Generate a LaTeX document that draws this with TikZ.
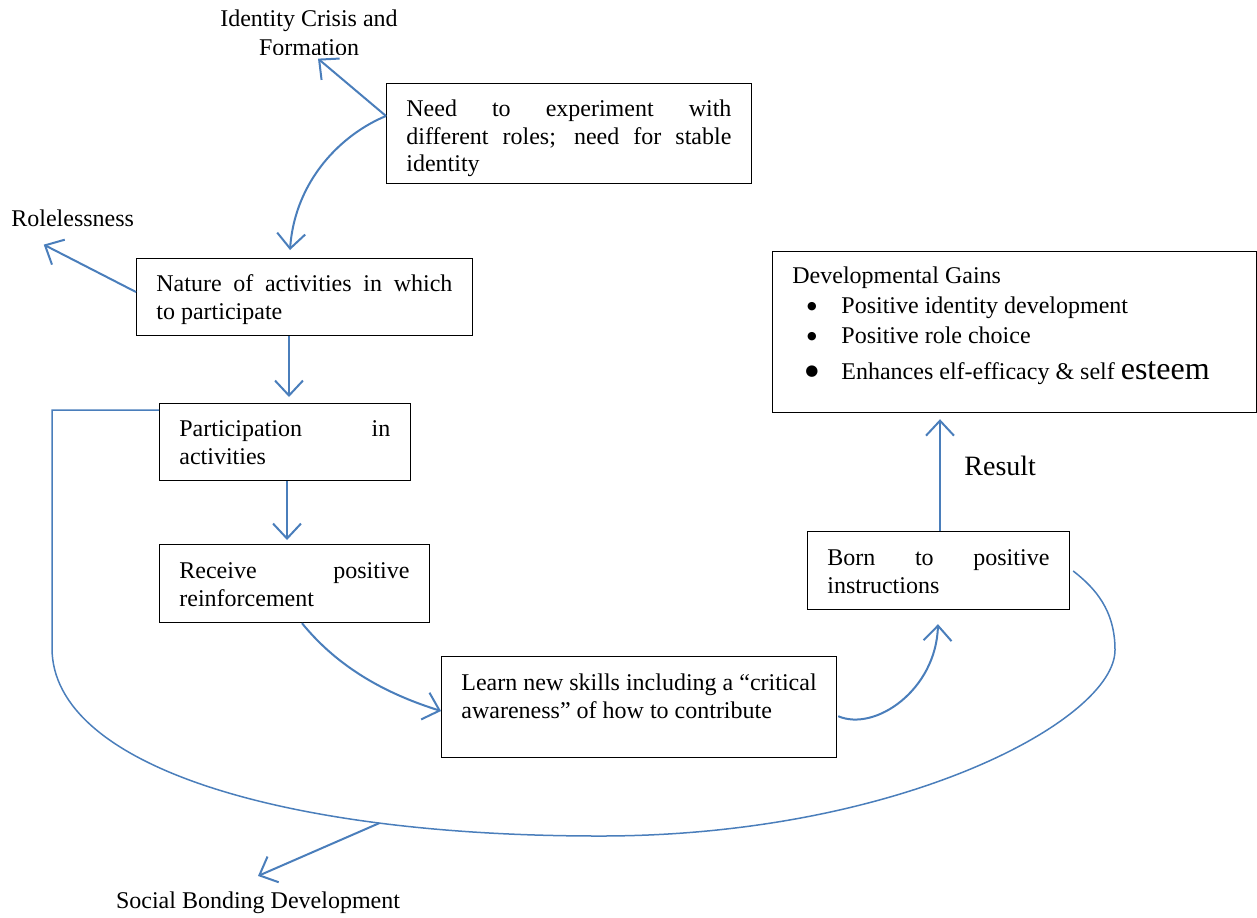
\documentclass[tikz,border=0pt]{standalone}
\usepackage{fontspec}
\setmainfont{Liberation Serif}
\newfontfamily\dejavu{DejaVu Sans}
\usetikzlibrary{arrows.meta,calc}
\definecolor{wblue}{RGB}{74,126,187}
\begin{document}
\begin{tikzpicture}[x=0.5pt,y=-0.5pt,
  box/.style={draw=black,line width=0.6pt,rectangle,inner sep=0pt,anchor=north west},
  txt/.style={anchor=north west,inner sep=0pt,font=\fontsize{12}{13.8}\selectfont,align=justify},
  ltxt/.style={anchor=north west,inner sep=0pt,font=\fontsize{12}{13.8}\selectfont,align=left},
  lbl/.style={inner sep=0pt,font=\fontsize{12}{13.8}\selectfont},
  bul/.style={inner sep=0pt,anchor=base,font=\dejavu\fontsize{5.5}{6}\selectfont},
  arr/.style={draw=wblue,line width=1pt,-{Straight Barb[length=7.5pt,width=14pt,line width=1pt]}},
  thinline/.style={draw=wblue,line width=0.75pt}]
\useasboundingbox (0,0) rectangle (1257,917);

% boxes
\node[box,minimum width=182.5pt,minimum height=50pt] (need) at (386,83) {};
\node[box,minimum width=168pt,minimum height=38.5pt] (nature) at (136,258) {};
\node[box,minimum width=125.5pt,minimum height=38.5pt] (part) at (159,403) {};
\node[box,minimum width=135pt,minimum height=39pt] (recv) at (159,544) {};
\node[box,minimum width=197.5pt,minimum height=50.5pt] (learn) at (441,656) {};
\node[box,minimum width=131pt,minimum height=39pt] (born) at (807,531) {};
\node[box,minimum width=242pt,minimum height=80.5pt] (gains) at (772,251) {};

% box texts
\node[txt,text width=162.5pt] (needT) at ($(need.north west)+(20,13.7)$)
  {\strut Need to experiment with\linebreak different roles; need for stable\linebreak identity};
\node[txt,text width=148pt] (natureT) at ($(nature.north west)+(20,13.7)$)
  {\strut Nature of activities in which\linebreak to participate};
\node[txt,text width=105.5pt] (partT) at ($(part.north west)+(20,13.7)$)
  {\strut Participation in\linebreak activities};
\node[txt,text width=115pt] (recvT) at ($(recv.north west)+(20,14.7)$)
  {\strut Receive positive\linebreak reinforcement};
\node[ltxt] (learnT) at ($(learn.north west)+(20,14.7)$)
  {\strut Learn new skills including a “critical\\awareness” of how to contribute};
\node[txt,text width=111pt] (bornT) at ($(born.north west)+(20,14.7)$)
  {\strut Born to positive\linebreak instructions};

% developmental gains
\node[lbl,anchor=base west] (gT) at (792,283) {Developmental Gains};
\node[bul] (b1) at (812,309) {●};
\node[lbl,anchor=base west] (g1) at (841,313) {Positive identity development};
\node[bul] (b2) at (812,339) {●};
\node[lbl,anchor=base west] (g2) at (841,343) {Positive role choice};
\node[bul,font=\dejavu\fontsize{7.5}{8}\selectfont] (b3) at (812,375) {●};
\node[lbl,anchor=base west] (g3) at (841,379) {Enhances elf-efficacy \& self {\fontsize{16}{19}\selectfont esteem}};

% outside labels
\node[lbl,anchor=base] (idl1) at (309,26) {Identity Crisis and};
\begin{scope}
  \clip (200,0) rectangle (420,54);
  \node[lbl,anchor=base] (idl2) at (309,55) {Formation};
\end{scope}
\node[lbl,anchor=base west] (rl) at (11,226) {Rolelessness};
\node[lbl,anchor=base] (sbl) at (258,908) {Social Bonding Development};
\node[lbl,anchor=base west,font=\fontsize{14}{16}\selectfont] (res) at (964,475) {Result};

% connectors
\coordinate (needL) at ($(need.north west)+(0,33)$);
\draw[arr] (needL) -- ($(idl2.south)+(9,3)$);
\draw[arr] (needL) .. controls (342,134) and (295,180) .. ($(nature.north west)+(154,-8)$);
\draw[arr] ($(nature.north west)+(0,34)$) -- ($(rl.south)+(-29,18)$);
\draw[arr] ($(nature.south west)+(153,0)$) -- ($(part.north west)+(130,-6)$);
\draw[arr] ($(part.south west)+(128,0)$) -- ($(recv.north west)+(128,-4)$);
\draw[arr] ($(recv.south west)+(143,0)$) .. controls (340,670) and (390,695) .. ($(learn.north west)+(0,55)$);
\draw[arr] ($(learn.south east)+(1,-42)$) .. controls (875,732) and (936,690) .. ($(born.south west)+(131,14)$);
\draw[arr] ($(born.north west)+(133,0)$) -- ($(gains.south west)+(168,6)$);

% big loop
\draw[thinline] ($(part.north west)+(0,7)$) -- (52,410) -- (52,648)
  .. controls (52,765) and (280,836) .. (600,836) coordinate[pos=0.75] (sb)
  .. controls (900,836) and (1115,720) .. (1115,650)
  .. controls (1115,610) and (1095,588) .. ($(born.north east)+(3,40)$);
\draw[arr] (sb) -- ($(sbl.north)+(0,-15)$);
\end{tikzpicture}
\end{document}
